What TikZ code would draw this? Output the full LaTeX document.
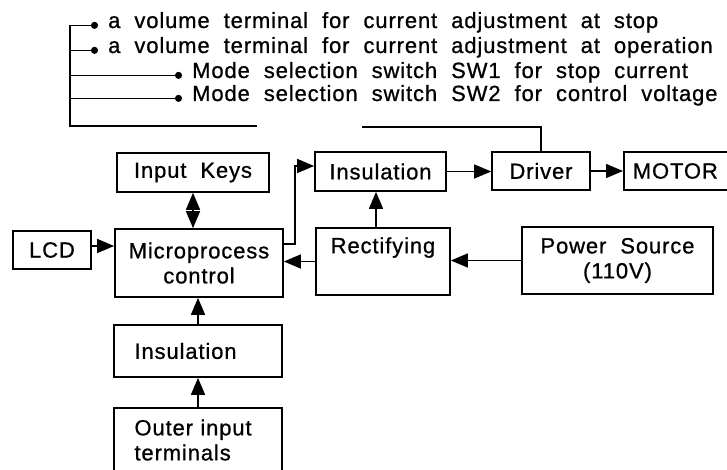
\documentclass[tikz,border=0pt]{standalone}
\usepackage{fontspec}
\setmainfont{Liberation Sans}[LetterSpace=4,WordSpace=2,FakeBold=0.8]
\usetikzlibrary{arrows.meta,positioning}
\tikzset{
  box/.style={draw, line width=1.7pt, minimum height=39pt, inner sep=0pt, align=center},
  arr/.style={-{Triangle[length=17pt,width=14pt]}, line width=1.5pt},
  twoway/.style={{Triangle[length=17pt,width=14pt]}-{Triangle[length=17pt,width=14pt]}, line width=1.5pt},
  wire/.style={line width=1.5pt},
  tick/.style={-{Circle[length=7pt]}, line width=1.5pt}
}

\begin{document}
\begin{tikzpicture}[x=1pt, y=-1pt, font=\fontsize{22}{25}\selectfont]
  \useasboundingbox[fill=white] (0,0) rectangle (727,470);

  % Blocks
  \node[box, minimum width=152pt] (keys) at (193,172.5) {Input Keys};
  \node[box, minimum width=78pt, minimum height=38pt] (lcd) at (52,250) {LCD};
  \node[box, minimum width=168pt, minimum height=68pt] (mcu) at (199,263) {Microprocess\\control};
  \node[box, minimum width=131pt] (ins1) at (380.5,171.5) {Insulation};
  \node[box, minimum width=98pt, minimum height=38pt] (drv) at (541,171) {Driver};
  \node[box, anchor=west, minimum height=38pt, align=left, text width=95pt, inner xsep=9pt] (motor) at (623,171) {MOTOR};
  \node[box, minimum width=134pt, minimum height=67pt] (rect) at (383,261.5) {Rectifying\\\strut};
  \node[box, minimum width=191pt, minimum height=67pt] (pwr) at (617.5,260.5) {Power Source\\(110V)};
  \node[box, minimum height=52pt, align=left, text width=127pt, inner xsep=20.5pt] (ins2) at (198,351) {Insulation};
  \node[box, minimum height=64pt, align=left, text width=127pt, inner xsep=20.5pt] (outer) at (198,440) {Outer input\\terminals};

  % Settings list
  \coordinate (brk) at (70,0);
  \coordinate (gapL) at (257,126);
  \coordinate (gapR) at (362,127);
  \foreach \n/\x/\y/\lab in {1/108/28/a volume terminal for current adjustment at stop,
                             2/108/53/a volume terminal for current adjustment at operation,
                             3/192/78/Mode selection switch SW1 for stop current,
                             4/192/101/Mode selection switch SW2 for control voltage} {
    \node[anchor=base west, inner sep=0pt] (t\n) at (\x,\y) {\lab};
    \draw[tick] (t\n.mid west -| brk) -- ([xshift=-10pt]t\n.mid west);
  }
  \draw[wire] (t1.mid west -| brk) |- (gapL);
  \draw[wire] (gapR) -| (drv.north);

  % Signal paths
  \draw[arr] ([yshift=4pt]lcd.east) -- ([yshift=4pt]lcd.east -| mcu.west);
  \draw[twoway] (keys.south) -- (keys.south |- mcu.north);
  \draw[arr] ([yshift=19pt]mcu.east) -- ++(11,0) |- ([yshift=5.5pt]ins1.west);
  \draw[arr] (ins1.east) -- (ins1.east -| drv.west);
  \draw[arr] (drv.east) -- (drv.east -| motor.west);
  \draw[arr] ([xshift=-7pt]rect.north) -- ([xshift=-7pt]rect.north |- ins1.south);
  \draw[arr] (rect.west) -- (rect.west -| mcu.east);
  \draw[arr] (pwr.west) -- (pwr.west -| rect.east);
  \draw[arr] (ins2.north) -- (ins2.north |- mcu.south);
  \draw[arr] (outer.north) -- (outer.north |- ins2.south);
\end{tikzpicture}
\end{document}
